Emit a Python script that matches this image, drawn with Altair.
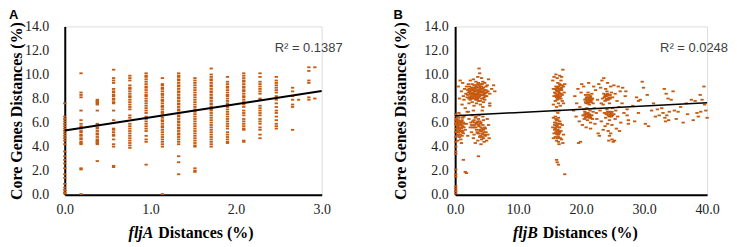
import altair as alt
import pandas as pd

POINT_COLOR = "#C55A11"
DASH = "M-1,-0.55L1,-0.55L1,0.55L-1,0.55Z"
SERIF = "Liberation Serif, Times New Roman, serif"
SANS = "Liberation Sans, Arial, sans-serif"

# ---------------- Panel A data (fljA distance columns) ----------------
fljA_x = [0.00, 0.19, 0.38, 0.57, 0.76, 0.95, 1.14, 1.33, 1.52, 1.71, 1.90,
          2.09, 2.28, 2.47, 2.66, 2.73, 2.85, 2.92]
fljA_core = [
    [0.1, 0.2, 0.4, 0.6, 0.9, 1.4, 1.7, 2.2, 2.6, 2.9, 3.2, 3.6, 4.2, 4.5, 4.7, 4.9,
     5.1, 5.3, 5.5, 5.7, 5.9, 6.1, 6.3, 6.5, 7.6],
    [10.1, 8.5, 8.3, 8.1, 7.0, 6.2, 5.9, 5.7, 5.5, 5.3, 5.2, 5.0, 4.9, 4.7, 4.6, 4.4,
     4.3, 4.2, 2.2, 2.1, 0.05],
    [7.9, 7.8, 7.7, 7.6, 7.5, 7.0, 5.9, 5.8, 5.6, 5.5, 5.3, 5.1, 5.0, 4.8, 4.6, 4.5,
     4.4, 4.3, 4.2, 2.8],
    [10.4, 9.7, 9.5, 9.3, 8.8, 8.6, 8.5, 8.3, 8.2, 8.0, 7.9, 7.7, 7.6, 7.0, 6.2, 5.5,
     5.4, 5.2, 5.0, 4.9, 4.6, 4.2, 4.0, 2.4, 2.3],
    [9.9, 9.7, 9.5, 9.1, 8.9, 8.8, 8.6, 8.4, 8.2, 8.1, 7.9, 7.7, 7.5, 7.3, 7.1, 6.6,
     6.4, 5.9, 5.7, 5.5, 5.3, 5.1, 4.9, 4.7, 4.5, 4.3, 4.1, 3.9],
    [10.1, 9.9, 9.8, 9.6, 9.4, 9.2, 9.0, 8.9, 8.7, 8.5, 8.3, 8.2, 8.0, 7.8, 7.6, 7.4,
     7.2, 7.0, 6.8, 6.5, 6.3, 6.1, 5.9, 5.7, 5.5, 5.3, 4.9, 4.6, 4.4, 2.5],
    [9.7, 9.2, 9.1, 8.9, 8.8, 8.6, 8.4, 8.3, 8.1, 7.9, 7.8, 7.6, 7.4, 7.3, 7.1, 6.9,
     6.8, 6.6, 6.4, 6.2, 6.1, 5.9, 5.7, 5.6, 5.4, 5.2, 5.0, 4.8, 4.6, 4.4, 4.2, 4.0, 0.05],
    [10.1, 9.9, 9.8, 9.6, 9.5, 9.3, 9.1, 9.0, 8.8, 8.6, 8.5, 8.3, 8.1, 8.0, 7.8, 7.6,
     7.5, 7.3, 7.1, 7.0, 6.8, 6.6, 6.5, 6.3, 6.1, 6.0, 5.8, 5.6, 5.5, 5.3, 5.1, 5.0,
     4.8, 4.6, 4.4, 4.2, 3.2, 2.7, 1.7],
    [9.7, 9.5, 9.3, 9.1, 8.9, 8.7, 8.5, 8.3, 8.1, 7.9, 7.7, 7.5, 7.3, 7.1, 6.9, 6.7,
     6.5, 6.3, 6.1, 5.9, 5.7, 5.5, 5.3, 5.1, 4.9, 4.7, 4.5, 4.3, 4.1, 4.0, 2.2, 2.0, 1.9],
    [10.5, 10.0, 9.8, 9.6, 9.5, 9.3, 9.1, 9.0, 8.8, 8.6, 8.5, 8.3, 8.1, 8.0, 7.8, 7.6,
     7.5, 7.3, 7.1, 7.0, 6.8, 6.6, 6.4, 6.2, 6.0, 5.8, 5.6, 5.4, 5.2, 5.0, 4.8, 4.6,
     4.4, 4.2, 4.0],
    [9.8, 9.4, 9.2, 9.0, 8.9, 8.7, 8.5, 8.3, 8.2, 8.0, 7.8, 7.6, 7.5, 7.3, 7.1, 6.9,
     6.7, 6.5, 6.3, 6.1, 5.9, 5.7, 5.5, 5.2, 5.0, 4.8, 4.6, 4.4, 4.3],
    [10.1, 9.9, 9.7, 9.5, 9.4, 9.2, 9.0, 8.9, 8.7, 8.6, 8.4, 8.2, 8.1, 7.9, 7.7, 7.5,
     7.3, 7.0, 6.8, 6.6, 6.3, 6.1, 5.9, 5.7, 5.5, 5.4, 4.5, 4.4],
    [10.1, 9.8, 9.4, 9.2, 9.0, 8.8, 8.6, 8.4, 8.0, 7.9, 7.4, 7.2, 7.0, 6.8, 6.6, 6.3,
     6.1, 5.9, 5.6, 5.4, 5.0, 4.7],
    [9.8, 9.5, 9.3, 9.1, 8.9, 8.7, 8.5, 8.2, 7.9, 7.6, 7.3, 7.0, 6.8, 6.5, 6.2, 5.9,
     5.7, 5.5],
    [8.9, 8.6, 8.2, 7.9, 7.5, 7.3, 5.4],
    [7.9],
    [10.6, 10.3, 9.5, 9.3, 8.1, 7.9],
    [10.6, 8.0],
]

fljA_trend_x = [0.0, 3.0]
fljA_trend_y = [5.35, 8.62]

# ---------------- Panel B data (fljB distance clusters) ----------------
fljB_low_upper = [
    (2.0, 8.3), (2.3, 8.6), (2.5, 8.2), (2.6, 8.9), (2.8, 8.5), (2.9, 8.0), (3.0, 8.8),
    (3.1, 8.3), (3.2, 9.1), (3.3, 8.6), (3.4, 8.1), (3.5, 8.9), (3.6, 8.4), (3.7, 9.3),
    (3.8, 8.7), (3.9, 8.2), (4.0, 9.0), (4.1, 8.5), (4.2, 8.0), (4.3, 8.8), (4.4, 9.4),
    (4.5, 8.3), (4.6, 8.7), (4.7, 7.9), (4.8, 8.5), (4.9, 9.0), (5.0, 8.2), (5.2, 8.6),
    (5.5, 8.4), (5.8, 8.8), (6.3, 8.6), (1.5, 8.8), (1.7, 8.4), (1.8, 9.0), (2.1, 9.2),
    (2.4, 9.5), (1.2, 9.3), (0.8, 9.5), (0.5, 9.0), (1.0, 8.6), (1.4, 7.9), (1.1, 7.5),
    (1.6, 7.2), (1.9, 6.9), (2.2, 7.6), (2.7, 7.7), (3.0, 7.4), (3.4, 7.6), (3.7, 7.8),
    (4.0, 7.5), (4.4, 7.3), (3.6, 9.8), (3.8, 10.5), (3.9, 10.1), (4.2, 9.7), (2.9, 9.6),
    (3.3, 9.4), (4.7, 9.3), (5.3, 9.6), (5.5, 7.6), (6.1, 9.1), (2.6, 8.0), (3.5, 8.3),
    (4.3, 8.3), (3.2, 8.0), (2.2, 8.0), (2.7, 9.2), (4.1, 9.2), (5.1, 9.1), (1.3, 8.2),
    (0.7, 8.0), (2.4, 8.4), (3.0, 8.4), (3.6, 8.7), (4.0, 8.3), (4.4, 8.6), (3.3, 8.9),
    (2.8, 8.7), (3.9, 8.9), (4.6, 8.1),
]
fljB_low_upper_core = [
    (2.1, 8.5), (2.3, 8.1), (2.5, 8.7), (2.7, 8.3), (2.9, 8.9), (3.1, 8.6), (3.3, 8.2),
    (3.5, 8.6), (3.7, 8.1), (3.9, 8.5), (4.1, 8.8), (4.3, 8.5), (4.5, 8.9), (4.7, 8.4),
    (2.2, 8.8), (2.6, 8.5), (3.0, 9.1), (3.4, 9.0), (3.8, 9.1), (4.2, 9.0), (2.4, 7.9),
    (2.8, 8.1), (3.2, 8.4), (3.6, 8.0), (4.0, 7.8), (4.4, 8.0), (4.8, 8.2), (2.9, 8.4),
    (3.4, 8.4), (3.9, 8.7), (4.6, 8.5), (2.5, 8.4), (3.1, 8.9), (3.7, 8.5), (4.2, 8.3),
    (3.5, 7.9), (2.0, 8.7), (4.9, 8.7), (3.3, 7.9), (3.6, 9.2), (3.0, 8.2), (4.5, 7.7),
    (2.3, 9.0), (4.0, 8.6), (3.8, 8.3), (2.7, 8.8), (3.2, 8.7), (4.3, 9.2), (1.9, 8.1),
    (5.0, 8.5),
]
fljB_low_lower = [
    (0.1, 6.7), (0.2, 6.3), (0.3, 5.9), (0.4, 6.1), (0.5, 5.6), (0.6, 6.4), (0.7, 5.8),
    (0.8, 5.3), (0.9, 6.0), (1.0, 5.5), (1.1, 6.2), (1.2, 5.7), (1.3, 5.1), (1.4, 6.5),
    (1.5, 5.9), (0.3, 5.3), (0.5, 5.0), (0.7, 4.8), (0.9, 4.6), (1.1, 4.9), (0.4, 4.5),
    (0.2, 5.5), (0.6, 6.8), (1.3, 6.0), (1.6, 5.4), (0.8, 6.6), (1.0, 4.3), (0.3, 4.9),
    (1.2, 5.3), (0.5, 6.2), (2.2, 6.3), (2.5, 6.0), (2.7, 6.6), (2.8, 5.6), (3.0, 6.2),
    (3.1, 5.8), (3.3, 6.5), (3.4, 5.4), (3.5, 6.0), (3.6, 5.1), (3.7, 6.3), (3.8, 5.7),
    (3.9, 4.8), (4.0, 5.3), (4.1, 6.0), (4.2, 4.6), (4.3, 5.5), (4.4, 5.0), (4.5, 6.2),
    (4.6, 4.4), (4.7, 5.6), (4.8, 4.9), (4.9, 5.2), (5.0, 4.5), (5.2, 5.0), (5.4, 4.7),
    (5.3, 5.8), (2.6, 5.2), (2.9, 4.7), (3.2, 4.3), (3.6, 4.5), (4.1, 4.2), (2.4, 5.6),
    (3.0, 5.0), (3.8, 6.6), (4.4, 6.5), (2.0, 4.9), (1.8, 5.9), (2.1, 6.9), (2.9, 7.0),
    (4.3, 7.0), (5.1, 6.3), (3.7, 3.2), (1.3, 2.9), (1.6, 1.9), (1.8, 1.8), (5.5, 7.4),
    (0.1, 3.6), (0.1, 3.4), (0.1, 2.1), (0.1, 1.7), (0.1, 1.5), (0.1, 0.5), (0.1, 0.3),
    (0.1, 0.1), (0.1, 4.0), (0.1, 4.4), (0.1, 0.7),
]
fljB_low_lower_core = [
    (0.2, 6.0), (0.4, 5.7), (0.6, 5.4), (0.8, 5.9), (1.0, 6.1), (1.2, 6.4), (0.3, 6.5),
    (0.5, 5.2), (0.7, 6.1), (0.9, 5.6), (1.1, 5.2), (0.4, 5.9), (0.6, 5.0), (0.8, 5.0),
    (1.0, 5.8), (0.2, 5.8), (0.5, 5.8), (0.9, 5.3), (1.2, 6.0), (0.7, 5.5), (0.3, 6.2),
    (0.6, 6.0), (1.4, 5.6), (0.1, 5.2), (0.1, 5.9), (0.1, 6.2), (0.1, 4.8),
    (3.1, 6.0), (3.3, 5.6), (3.5, 5.2), (3.7, 5.8), (3.9, 5.4), (4.1, 5.6), (4.3, 5.1),
    (4.5, 5.4), (4.7, 5.0), (3.2, 6.4), (3.6, 6.1), (4.0, 5.9), (4.2, 5.3), (4.4, 5.8),
    (4.6, 5.2), (3.4, 5.9), (3.8, 5.1), (4.0, 4.9), (4.8, 5.5), (4.3, 4.8), (3.0, 5.6),
    (2.8, 6.1), (2.6, 5.8), (3.9, 6.1), (4.5, 4.7),
]
fljB_mid = [
    (16.0, 9.0), (16.2, 8.6), (16.3, 9.3), (16.4, 8.2), (16.5, 8.8), (16.6, 8.4),
    (16.7, 9.1), (16.8, 8.0), (16.9, 8.7), (17.0, 8.3), (16.1, 8.1), (15.8, 8.5),
    (15.6, 8.8), (15.5, 9.5), (15.7, 9.8), (16.2, 9.7), (16.8, 9.5), (17.1, 10.4),
    (17.2, 9.0), (17.3, 8.5), (15.9, 7.8), (16.4, 7.6), (16.7, 7.4), (17.0, 7.8),
    (16.1, 7.3), (15.9, 7.0), (16.5, 7.0), (16.3, 6.8), (16.6, 9.9), (16.0, 10.0),
    (16.9, 9.8), (17.4, 9.2), (16.3, 8.9), (16.6, 8.0), (15.7, 8.2), (16.2, 7.9),
    (17.2, 7.6), (15.6, 7.5), (15.6, 6.4), (15.8, 6.0), (15.9, 6.5), (16.0, 5.6),
    (16.1, 6.2), (16.2, 5.3), (16.3, 5.9), (16.4, 5.0), (16.5, 5.6), (16.6, 6.1),
    (16.7, 4.7), (16.8, 5.3), (15.7, 5.1), (15.9, 4.8), (16.1, 4.5), (16.4, 4.4),
    (16.9, 4.6), (17.1, 4.3), (15.5, 5.6), (15.8, 5.4), (16.2, 5.0), (16.6, 5.2),
    (16.0, 6.0), (16.4, 6.4), (17.0, 5.8), (17.2, 5.0), (15.6, 4.7), (16.5, 4.2),
    (16.1, 2.9), (16.4, 2.5), (17.4, 1.7), (16.2, 2.7),
]
fljB_mid_core = [
    (16.0, 8.4), (16.2, 8.9), (16.4, 8.6), (16.6, 8.7), (16.8, 8.4), (16.1, 8.7),
    (16.3, 8.3), (16.5, 8.1), (16.7, 8.2), (16.9, 8.9), (16.0, 8.8), (16.4, 9.0),
    (16.6, 9.2), (16.2, 8.3), (16.8, 8.8), (16.5, 8.5), (16.3, 8.0), (15.9, 8.2),
    (17.0, 9.1), (16.1, 5.8), (16.3, 5.4), (16.5, 5.9), (16.0, 5.2), (16.2, 5.7),
    (16.4, 5.3), (16.6, 5.6), (15.9, 5.5), (16.1, 5.1), (16.3, 6.2), (16.5, 5.1),
    (15.8, 5.8), (16.0, 6.3), (16.4, 4.8), (16.2, 4.7), (16.7, 5.9),
]
fljB_high = [
    (20.6, 7.9), (20.8, 7.6), (20.9, 8.1), (21.0, 7.8), (21.2, 8.3), (21.3, 7.5),
    (21.4, 7.9), (21.5, 8.2), (21.6, 7.7), (21.8, 8.0), (21.9, 7.6), (21.1, 8.5),
    (21.7, 8.4), (20.7, 8.3), (20.3, 6.6), (20.5, 6.3), (20.6, 6.9), (20.8, 6.5),
    (21.0, 6.2), (21.1, 6.8), (21.3, 6.4), (21.4, 7.0), (21.6, 6.6), (21.8, 6.3),
    (21.9, 6.9), (20.9, 7.2), (21.5, 6.0), (20.4, 7.1), (23.4, 8.0), (23.6, 8.4),
    (23.8, 7.8), (24.0, 8.2), (24.1, 8.6), (24.3, 7.9), (24.4, 8.3), (24.6, 8.0),
    (24.8, 8.5), (24.5, 7.6), (23.9, 8.8), (24.7, 9.0), (23.5, 7.5), (23.7, 6.8),
    (23.9, 6.4), (24.1, 7.1), (24.3, 6.6), (24.5, 6.2), (24.6, 6.9), (24.8, 6.5),
    (25.0, 7.2), (25.2, 6.7), (25.4, 6.3), (25.5, 7.0), (24.2, 5.9), (24.9, 5.8),
    (24.3, 5.3), (24.5, 4.9), (24.7, 5.1), (24.9, 4.6), (25.1, 4.4), (25.3, 4.5),
    (24.4, 4.5), (18.8, 7.0), (19.0, 8.2), (19.2, 6.5), (19.3, 7.6), (19.5, 8.8),
    (19.7, 6.1), (19.8, 7.3), (20.0, 8.5), (20.1, 9.2), (20.2, 5.8), (20.4, 9.0),
    (19.6, 4.3), (19.9, 4.4), (20.8, 5.6), (21.2, 9.3), (21.5, 5.5), (22.0, 9.0),
    (22.1, 7.2), (22.2, 5.9), (22.3, 8.7), (22.4, 6.8), (22.6, 7.9), (22.7, 5.1),
    (22.8, 9.2), (22.9, 4.9), (23.0, 7.0), (23.1, 8.9), (23.2, 6.1), (23.3, 9.5),
    (23.5, 5.4), (23.6, 9.7), (23.8, 5.7), (24.2, 9.3), (25.0, 8.1), (25.2, 9.1),
    (25.4, 8.4), (25.6, 5.5), (25.7, 7.8), (25.8, 6.5), (25.9, 9.0), (26.0, 7.3),
    (26.2, 8.6), (26.3, 6.0), (26.5, 7.6), (26.6, 8.9), (26.8, 6.8), (27.0, 8.2),
    (27.3, 7.1), (27.5, 5.9), (22.5, 6.3), (23.2, 7.6), (26.1, 5.3),
]
fljB_high_core = [
    (20.7, 7.7), (20.9, 7.9), (21.1, 7.6), (21.3, 8.0), (21.5, 7.8), (21.7, 7.9),
    (21.0, 8.1), (21.2, 7.7), (21.4, 8.1), (21.6, 8.0), (20.8, 8.0), (21.1, 7.9),
    (20.5, 6.6), (20.7, 6.4), (20.9, 6.7), (21.1, 6.5), (21.3, 6.7), (21.5, 6.4),
    (21.7, 6.6), (20.6, 6.7), (21.0, 6.5), (21.2, 6.6), (21.4, 6.5), (20.8, 6.8),
    (23.7, 8.1), (23.9, 8.3), (24.1, 8.0), (24.3, 8.3), (24.5, 8.1), (24.2, 8.4),
    (24.0, 7.9), (24.4, 8.0), (23.8, 8.2), (24.6, 8.3), (24.0, 6.7), (24.2, 6.9),
    (24.4, 6.6), (24.6, 6.6), (24.8, 6.8), (25.0, 6.6), (24.5, 6.5), (24.7, 6.7),
    (24.3, 6.8), (24.9, 6.9),
]
fljB_far = [
    (27.1, 8.6), (27.3, 6.6), (27.5, 6.2), (28.8, 8.1), (29.1, 7.8), (29.4, 7.9),
    (29.7, 9.4), (29.9, 8.9), (29.1, 6.8), (30.2, 5.9), (30.7, 5.7), (31.2, 7.0),
    (31.8, 6.5), (32.1, 7.1), (32.4, 6.6), (33.2, 8.8), (33.5, 8.4), (33.8, 8.0),
    (34.3, 7.9), (33.0, 6.8), (33.3, 6.4), (33.6, 6.6), (33.9, 6.2), (34.0, 6.9),
    (33.4, 6.1), (34.6, 8.6), (35.1, 6.3), (35.4, 6.9), (36.2, 6.0), (36.7, 7.6),
    (37.5, 7.9), (37.8, 6.2), (38.1, 7.8), (38.4, 6.8), (38.6, 6.5), (38.9, 8.3),
    (39.2, 7.9), (39.5, 9.0), (39.8, 7.0), (40.0, 6.4), (28.2, 7.4), (30.5, 8.3),
    (31.5, 7.6), (32.8, 7.2), (35.8, 7.3), (36.9, 6.7), (39.0, 6.9), (34.8, 7.0),
    (28.5, 6.1), (39.6, 7.5),
]

fljB_trend_x = [0.0, 40.0]
fljB_trend_y = [6.57, 7.65]

y_ticks = [0, 2, 4, 6, 8, 10, 12, 14]
fljA_ticks = [0, 1, 2, 3]
fljB_ticks = [0, 10, 20, 30, 40]

# ---------------- tables ----------------
rows_a = [(x, y) for x, ys in zip(fljA_x, fljA_core) for y in ys]
df_a = pd.DataFrame(rows_a, columns=["x", "y"])
df_b = pd.DataFrame(fljB_low_upper + fljB_low_upper_core + fljB_low_lower
                    + fljB_low_lower_core + fljB_mid + fljB_mid_core + fljB_high
                    + fljB_high_core + fljB_far, columns=["x", "y"])
line_a = pd.DataFrame({"x": fljA_trend_x, "y": fljA_trend_y})
line_b = pd.DataFrame({"x": fljB_trend_x, "y": fljB_trend_y})

W_A, W_B, H = 258, 253, 169


def panel(df, line_df, xmax, xticks, width, line_w, r2, r2_x, letter, letter_x,
          gene, gene_right, rest_left, label_pad, title_pad):
    x_enc = alt.X("x:Q", scale=alt.Scale(domain=[0, xmax], nice=False),
                  axis=alt.Axis(values=xticks, format=".1f", title=None, ticks=False,
                                grid=False, domainColor="black", domainWidth=2,
                                labelFlush=False,
                                labelFont=SERIF, labelFontSize=14,
                                labelColor="#222222", labelPadding=8))
    y_enc = alt.Y("y:Q", scale=alt.Scale(domain=[0, 14], nice=False),
                  axis=alt.Axis(values=y_ticks, format=".1f",
                                title="Core Genes Distances (%)",
                                titleFont=SERIF, titleFontSize=16,
                                titleFontWeight="bold", titleColor="black",
                                titlePadding=title_pad, ticks=False, grid=False,
                                domainColor="black", domainWidth=2,
                                labelFont=SERIF, labelFontSize=14,
                                labelColor="#222222", labelPadding=label_pad))
    pts = alt.Chart(df).mark_point(shape=DASH, filled=True, size=11, opacity=1,
                                   color=POINT_COLOR, strokeWidth=0).encode(x=x_enc, y=y_enc)
    trend = alt.Chart(line_df).mark_line(color="black", strokeWidth=line_w).encode(
        x=x_enc, y=y_enc)
    txt = pd.DataFrame({"r2": [r2], "letter": [letter], "gene": [gene],
                        "rest": ["Distances (%)"]})
    base = alt.Chart(txt)
    r2_mark = base.mark_text(font=SANS, fontSize=13, color="#404040",
                             align="right", baseline="middle").encode(
        x=alt.value(r2_x), y=alt.value(22), text="r2:N")
    letter_mark = base.mark_text(font=SANS, fontSize=13, fontWeight="bold",
                                 color="black", align="left", baseline="middle").encode(
        x=alt.value(letter_x), y=alt.value(-11), text="letter:N")
    gene_mark = base.mark_text(font=SERIF, fontSize=16, fontWeight="bold",
                               fontStyle="italic", color="black", align="right",
                               baseline="middle").encode(
        x=alt.value(gene_right), y=alt.value(H + 38), text="gene:N")
    rest_mark = base.mark_text(font=SERIF, fontSize=16, fontWeight="bold",
                               color="black", align="left", baseline="middle").encode(
        x=alt.value(rest_left), y=alt.value(H + 38), text="rest:N")
    return alt.layer(pts, trend, r2_mark, letter_mark, gene_mark, rest_mark).properties(
        width=width, height=H)


pa = panel(df_a, line_a, 3.0, fljA_ticks, W_A, 2, "R\u00b2 = 0.1387", 279, "A", -56,
           "fljA", 89, 94, 16, 0)
pb = panel(df_b, line_b, 40.0, fljB_ticks, W_B, 1.5, "R\u00b2 = 0.0248", 274, "B", -62,
           "fljB", 83, 88, 7, 15)

chart = alt.hconcat(pa, pb, spacing=49).properties(padding=0).configure_view(
    stroke=None).configure(background="white")

chart.save("out.html", embed_options={"renderer": "svg", "actions": False})
